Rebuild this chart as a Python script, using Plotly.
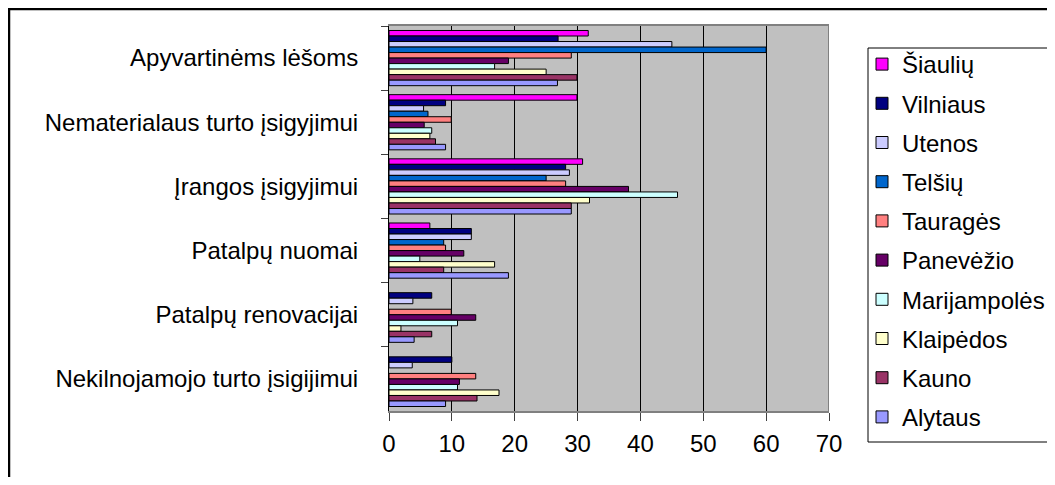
import plotly.graph_objects as go

categories = [
    "Apyvartinėms lėšoms",
    "Nematerialaus turto įsigyjimui",
    "Įrangos įsigyjimui",
    "Patalpų nuomai",
    "Patalpų renovacijai",
    "Nekilnojamojo turto įsigijimui",
]

regions = ["Šiaulių", "Vilniaus", "Utenos", "Telšių", "Tauragės",
           "Panevėžio", "Marijampolės", "Klaipėdos", "Kauno", "Alytaus"]

siauliu = [31.7, 29.9, 30.8, 6.5, None, None]
vilniaus = [26.9, 9.0, 28.1, 13.1, 6.8, 10.0]
utenos = [45.0, 5.5, 28.7, 13.1, 3.8, 3.7]
telsiu = [60.0, 6.2, 25.0, 8.7, None, None]
taurages = [29.0, 9.9, 28.1, 9.0, 9.9, 13.8]
panevezio = [19.0, 5.6, 38.1, 11.9, 13.8, 11.2]
marijampoles = [16.8, 6.8, 45.9, 4.9, 10.9, 10.9]
klaipedos = [25.0, 6.5, 31.9, 16.8, 1.9, 17.5]
kauno = [29.9, 7.4, 29.0, 8.7, 6.8, 14.0]
alytaus = [26.8, 9.0, 29.0, 19.0, 4.0, 9.0]

series = [siauliu, vilniaus, utenos, telsiu, taurages,
          panevezio, marijampoles, klaipedos, kauno, alytaus]

colors = ["#FF00FF", "#000080", "#CCCCFF", "#0066CC", "#FF8080",
          "#660066", "#CCFFFF", "#FFFFCC", "#993366", "#9999FF"]

# the page body has an 8px margin, so the figure is 16px smaller than the window
OFF = 8
W, H = 1055 - OFF, 485 - 2 * OFF
L, R, T, B = 381, 226, 18, 66
PW, PH = W - L - R, H - T - B


def px_x(x):
    # window pixel -> paper coordinate
    return (x - OFF - L) / PW


def px_y(y):
    return (H - B - (y - OFF)) / PH


fig = go.Figure()
for name, vals, col in zip(regions, series, colors):
    fig.add_trace(go.Bar(
        y=categories, x=vals, name=name, orientation="h",
        marker=dict(color=col, line=dict(color="black", width=1)),
        legendgroup=name,
    ))

font = "Liberation Sans, Arial, sans-serif"

fig.update_layout(
    width=W, height=H,
    margin=dict(l=L, r=R, t=T, b=B, autoexpand=False),
    paper_bgcolor="white",
    plot_bgcolor="#C0C0C0",
    barmode="group",
    bargap=0.14,
    bargroupgap=0,
    font=dict(family=font, size=24, color="black"),
    xaxis=dict(
        range=[0, 70], dtick=10, tick0=0,
        showgrid=True, gridcolor="black", gridwidth=1,
        zeroline=False,
        showline=True, linecolor="#808080", linewidth=2, mirror=True,
        ticks="outside", ticklen=8, tickcolor="#404040",
        ticklabelstandoff=2,
    ),
    yaxis=dict(
        autorange="reversed",
        showgrid=False,
        showline=True, linecolor="black", linewidth=1,
        ticks="outside", ticklen=7, tickcolor="#404040",
        tickson="boundaries",
        ticklabelstandoff=25,
    ),
    legend=dict(
        xref="container", yref="container",
        x=854 / W, xanchor="left",
        y=1 - 34 / H, yanchor="top",
        bgcolor="rgba(0,0,0,0)",
        tracegroupgap=5,
        traceorder="grouped",
        maxheight=440,
    ),
    showlegend=True,
)

# right edge of plot area
fig.add_shape(type="line", xref="x", yref="paper", x0=70, x1=70, y0=0, y1=1,
              line=dict(color="#808080", width=2))
# legend frame
fig.add_shape(type="rect", xref="paper", yref="paper",
              x0=px_x(868), x1=px_x(1075), y0=px_y(48), y1=px_y(442),
              line=dict(color="black", width=1))
# outer chart frame
fig.add_shape(type="rect", xref="paper", yref="paper",
              x0=px_x(9), x1=px_x(1090), y0=px_y(9), y1=px_y(520),
              line=dict(color="black", width=2.5))

fig.write_html("out.html")
